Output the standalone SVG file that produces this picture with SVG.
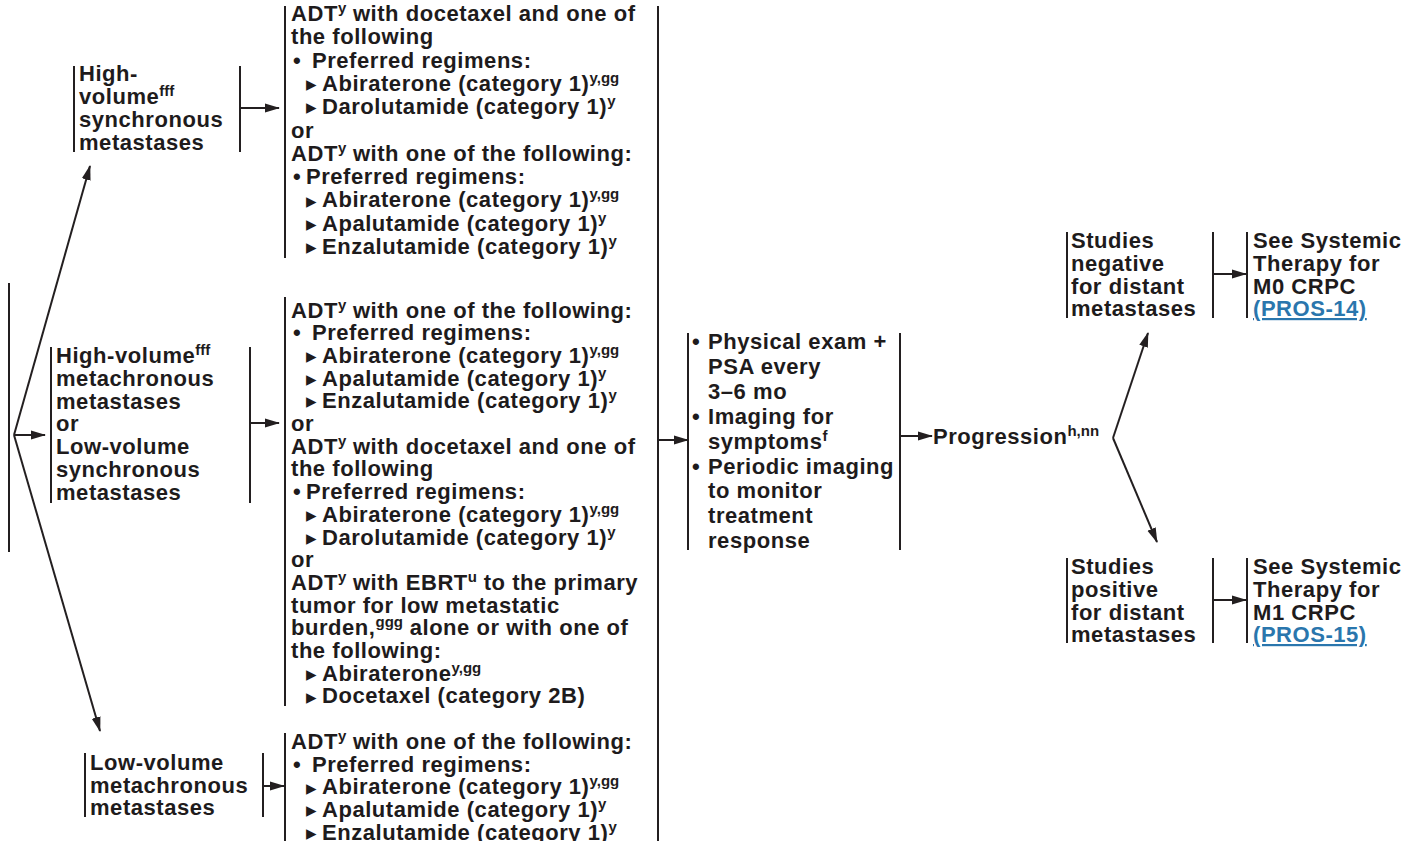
<svg xmlns="http://www.w3.org/2000/svg" width="1412" height="841" viewBox="0 0 1412 841">
<style>
text{font-family:"Liberation Sans",Arial,Helvetica,sans-serif;font-weight:bold;font-size:22px;letter-spacing:0.55px;fill:#1e1b1c}
.s{font-size:15px;letter-spacing:0}
.tri{font-family:"DejaVu Sans",sans-serif;font-size:21px;letter-spacing:0}
.lk{fill:#2a76ad;text-decoration:underline}
.bar{stroke:#231f20;stroke-width:2;fill:none}
.con{stroke:#231f20;stroke-width:2;fill:none}
.arr{stroke:#231f20;stroke-width:2;fill:none;marker-end:url(#ah)}
</style>
<defs>
<marker id="ah" markerWidth="15" markerHeight="11" refX="14" refY="5.5" orient="auto" markerUnits="userSpaceOnUse"><path d="M0,1 L15,5.5 L0,10 z" fill="#231f20"/></marker>
</defs>
<rect width="1412" height="841" fill="#fff"/>

<g id="start"><line class="bar" x1="9" y1="283" x2="9" y2="552"/></g>

<g id="n-hv-sync">
<line class="bar" x1="74" y1="66" x2="74" y2="152"/>
<line class="bar" x1="240" y1="66" x2="240" y2="152"/>
<text x="79" y="81">High-</text>
<text x="79" y="104">volume<tspan class="s" dy="-8">fff</tspan></text>
<text x="79" y="127">synchronous</text>
<text x="79" y="150">metastases</text>
</g>

<g id="n-hv-meta">
<line class="bar" x1="51" y1="347" x2="51" y2="503"/>
<line class="bar" x1="250" y1="347" x2="250" y2="503"/>
<text x="56" y="363">High-volume<tspan class="s" dy="-8">fff</tspan></text>
<text x="56" y="386">metachronous</text>
<text x="56" y="409">metastases</text>
<text x="56" y="431">or</text>
<text x="56" y="454">Low-volume</text>
<text x="56" y="477">synchronous</text>
<text x="56" y="500">metastases</text>
</g>

<g id="n-lv-meta">
<line class="bar" x1="85" y1="753" x2="85" y2="817"/>
<line class="bar" x1="263" y1="753" x2="263" y2="817"/>
<text x="90" y="770">Low-volume</text>
<text x="90" y="793">metachronous</text>
<text x="90" y="815">metastases</text>
</g>

<g id="tx1">
<line class="bar" x1="285" y1="6" x2="285" y2="258"/>
<text x="291" y="21">ADT<tspan class="s" dy="-8">y</tspan><tspan dy="8"> with docetaxel and one of</tspan></text>
<text x="291" y="44.3">the following</text>
<text x="293" y="67.6">•</text><text x="312" y="67.6">Preferred regimens:</text>
<text class="tri" x="306" y="91">▸</text><text x="322" y="90.9">Abiraterone (category 1)<tspan class="s" dy="-8">y,gg</tspan></text>
<text class="tri" x="306" y="114.3">▸</text><text x="322" y="114.2">Darolutamide (category 1)<tspan class="s" dy="-8">y</tspan></text>
<text x="291" y="137.5">or</text>
<text x="291" y="160.8">ADT<tspan class="s" dy="-8">y</tspan><tspan dy="8"> with one of the following:</tspan></text>
<text x="293" y="184.1">•</text><text x="306" y="184.1">Preferred regimens:</text>
<text class="tri" x="306" y="207.5">▸</text><text x="322" y="207.4">Abiraterone (category 1)<tspan class="s" dy="-8">y,gg</tspan></text>
<text class="tri" x="306" y="230.8">▸</text><text x="322" y="230.7">Apalutamide (category 1)<tspan class="s" dy="-8">y</tspan></text>
<text class="tri" x="306" y="254.1">▸</text><text x="322" y="254">Enzalutamide (category 1)<tspan class="s" dy="-8">y</tspan></text>
</g>

<g id="tx2">
<line class="bar" x1="285" y1="297" x2="285" y2="706"/>
<text x="291" y="317.5">ADT<tspan class="s" dy="-8">y</tspan><tspan dy="8"> with one of the following:</tspan></text>
<text x="293" y="340.2">•</text><text x="312" y="340.2">Preferred regimens:</text>
<text class="tri" x="306" y="363">▸</text><text x="322" y="362.9">Abiraterone (category 1)<tspan class="s" dy="-8">y,gg</tspan></text>
<text class="tri" x="306" y="385.7">▸</text><text x="322" y="385.6">Apalutamide (category 1)<tspan class="s" dy="-8">y</tspan></text>
<text class="tri" x="306" y="408.4">▸</text><text x="322" y="408.3">Enzalutamide (category 1)<tspan class="s" dy="-8">y</tspan></text>
<text x="291" y="431">or</text>
<text x="291" y="453.7">ADT<tspan class="s" dy="-8">y</tspan><tspan dy="8"> with docetaxel and one of</tspan></text>
<text x="291" y="476.4">the following</text>
<text x="293" y="499.1">•</text><text x="306" y="499.1">Preferred regimens:</text>
<text class="tri" x="306" y="521.9">▸</text><text x="322" y="521.8">Abiraterone (category 1)<tspan class="s" dy="-8">y,gg</tspan></text>
<text class="tri" x="306" y="544.6">▸</text><text x="322" y="544.5">Darolutamide (category 1)<tspan class="s" dy="-8">y</tspan></text>
<text x="291" y="567.2">or</text>
<text x="291" y="589.9">ADT<tspan class="s" dy="-8">y</tspan><tspan dy="8"> with EBRT</tspan><tspan class="s" dy="-8">u</tspan><tspan dy="8"> to the primary</tspan></text>
<text x="291" y="612.6">tumor for low metastatic</text>
<text x="291" y="635.3">burden,<tspan class="s" dy="-8">ggg</tspan><tspan dy="8"> alone or with one of</tspan></text>
<text x="291" y="658">the following:</text>
<text class="tri" x="306" y="680.8">▸</text><text x="322" y="680.7">Abiraterone<tspan class="s" dy="-8">y,gg</tspan></text>
<text class="tri" x="306" y="703.5">▸</text><text x="322" y="703.4">Docetaxel (category 2B)</text>
</g>

<g id="tx3">
<line class="bar" x1="285" y1="733" x2="285" y2="841"/>
<text x="291" y="749">ADT<tspan class="s" dy="-8">y</tspan><tspan dy="8"> with one of the following:</tspan></text>
<text x="293" y="771.7">•</text><text x="312" y="771.7">Preferred regimens:</text>
<text class="tri" x="306" y="794.5">▸</text><text x="322" y="794.4">Abiraterone (category 1)<tspan class="s" dy="-8">y,gg</tspan></text>
<text class="tri" x="306" y="817.2">▸</text><text x="322" y="817.1">Apalutamide (category 1)<tspan class="s" dy="-8">y</tspan></text>
<text class="tri" x="306" y="839.9">▸</text><text x="322" y="839.8">Enzalutamide (category 1)<tspan class="s" dy="-8">y</tspan></text>
</g>

<g id="monitor">
<line class="bar" x1="688" y1="333" x2="688" y2="550"/>
<line class="bar" x1="900" y1="333" x2="900" y2="550"/>
<text x="692" y="349">•</text><text x="708" y="349">Physical exam +</text>
<text x="708" y="373.9">PSA every</text>
<text x="708" y="398.8">3–6 mo</text>
<text x="692" y="423.7">•</text><text x="708" y="423.7">Imaging for</text>
<text x="708" y="448.6">symptoms<tspan class="s" dy="-8">f</tspan></text>
<text x="692" y="473.5">•</text><text x="708" y="473.5">Periodic imaging</text>
<text x="708" y="498.4">to monitor</text>
<text x="708" y="523.3">treatment</text>
<text x="708" y="548.2">response</text>
</g>

<g id="progression">
<text x="933" y="444">Progression<tspan class="s" dy="-8">h,nn</tspan></text>
</g>

<g id="neg">
<line class="bar" x1="1067" y1="232" x2="1067" y2="318"/>
<line class="bar" x1="1213" y1="232" x2="1213" y2="318"/>
<text x="1071" y="248">Studies</text>
<text x="1071" y="271">negative</text>
<text x="1071" y="293.5">for distant</text>
<text x="1071" y="316">metastases</text>
</g>

<g id="m0">
<line class="bar" x1="1247" y1="232" x2="1247" y2="318"/>
<text x="1253" y="248">See Systemic</text>
<text x="1253" y="271">Therapy for</text>
<text x="1253" y="293.5">M0 CRPC</text>
<text class="lk" x="1253" y="316">(PROS-14)</text>
</g>

<g id="pos">
<line class="bar" x1="1067" y1="558" x2="1067" y2="643"/>
<line class="bar" x1="1213" y1="558" x2="1213" y2="643"/>
<text x="1071" y="574">Studies</text>
<text x="1071" y="597">positive</text>
<text x="1071" y="619.5">for distant</text>
<text x="1071" y="642">metastases</text>
</g>

<g id="m1">
<line class="bar" x1="1247" y1="558" x2="1247" y2="643"/>
<text x="1253" y="574">See Systemic</text>
<text x="1253" y="597">Therapy for</text>
<text x="1253" y="619.5">M1 CRPC</text>
<text class="lk" x="1253" y="642">(PROS-15)</text>
</g>

<g id="connectors">
<line class="arr" x1="14" y1="435" x2="90" y2="166"/>
<line class="arr" x1="14" y1="435" x2="100" y2="731"/>
<line class="arr" x1="14" y1="435" x2="45" y2="435"/>
<line class="arr" x1="240" y1="108" x2="279" y2="108"/>
<line class="arr" x1="250" y1="423" x2="279" y2="423"/>
<line class="arr" x1="263" y1="786" x2="284" y2="786"/>
<line class="con" x1="658" y1="6" x2="658" y2="841"/>
<line class="arr" x1="658" y1="440" x2="688" y2="440"/>
<line class="arr" x1="900" y1="436" x2="932" y2="436"/>
<line class="arr" x1="1113" y1="438" x2="1148" y2="333"/>
<line class="arr" x1="1113" y1="438" x2="1157" y2="542"/>
<line class="arr" x1="1213" y1="274" x2="1246" y2="274"/>
<line class="arr" x1="1213" y1="600" x2="1246" y2="600"/>
</g>
</svg>
